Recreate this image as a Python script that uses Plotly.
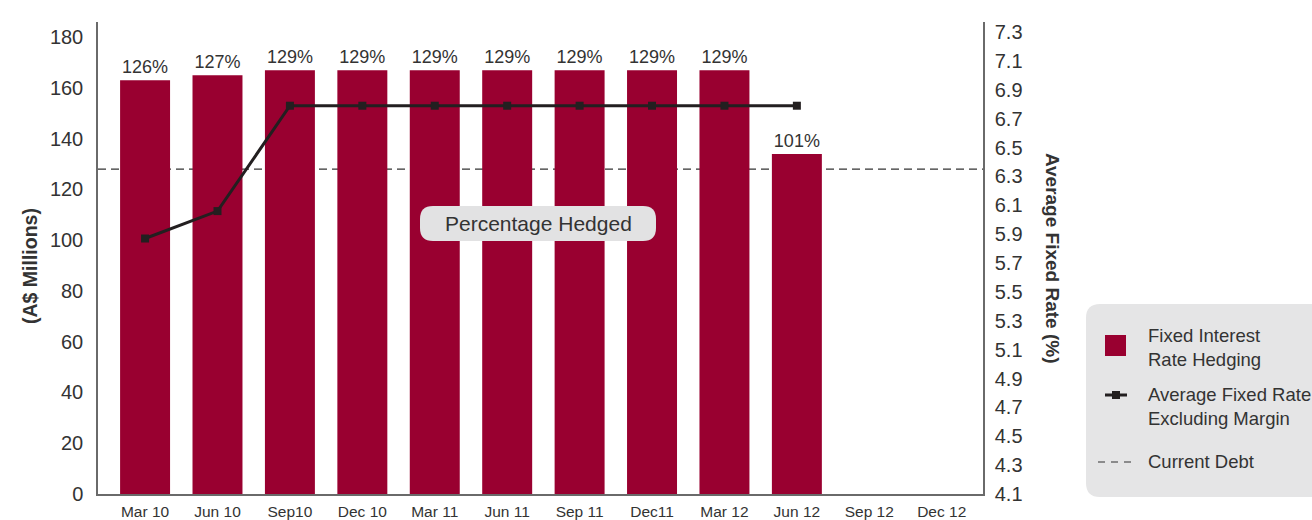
import plotly.graph_objects as go

categories = ["Mar 10", "Jun 10", "Sep10", "Dec 10", "Mar 11", "Jun 11",
              "Sep 11", "Dec11", "Mar 12", "Jun 12", "Sep 12", "Dec 12"]
hedging = [163, 165, 167, 167, 167, 167, 167, 167, 167, 134, None, None]
pct_hedged = ["126%", "127%", "129%", "129%", "129%", "129%", "129%", "129%", "129%", "101%", "", ""]
avg_rate = [5.87, 6.06, 6.79, 6.79, 6.79, 6.79, 6.79, 6.79, 6.79, 6.79, None, None]
current_debt = 128

BAR = "#990030"
LINE = "#231f20"
TXT = "#333333"
FONT = "Liberation Sans, Arial, Helvetica, sans-serif"

W, H = 1312, 520
# screen-pixel plot area (body margin removed via post_script)
SL, SR, ST, SB = 98, 983, 22, 494
L, R, T, B = SL, SR, ST, SB

def px(x):
    return (x - SL) / (SR - SL)

def py(y):
    return (SB - y) / (SB - ST)

fig = go.Figure()
fig.add_trace(go.Bar(
    x=categories, y=hedging, marker=dict(color=BAR, line=dict(width=0)),
    width=0.69, text=pct_hedged, textposition="outside",
    textfont=dict(size=18, color=TXT, family=FONT), cliponaxis=False,
    showlegend=False, hoverinfo="skip"))
fig.add_trace(go.Scatter(
    x=categories, y=avg_rate, yaxis="y2", mode="lines+markers",
    line=dict(color=LINE, width=3), marker=dict(symbol="square", size=8, color=LINE),
    showlegend=False, hoverinfo="skip"))

shapes = []
# current debt dashed line (behind bars)
shapes.append(dict(type="line", xref="paper", x0=0, x1=1, yref="y", y0=current_debt, y1=current_debt,
                   line=dict(color="#333333", width=1.2, dash="8px,5px"), layer="below"))

def rrect(x0, y0, x1, y1, r):
    return (f"M {px(x0+r)} {py(y0)} L {px(x1-r)} {py(y0)} Q {px(x1)} {py(y0)} {px(x1)} {py(y0+r)} "
            f"L {px(x1)} {py(y1-r)} Q {px(x1)} {py(y1)} {px(x1-r)} {py(y1)} "
            f"L {px(x0+r)} {py(y1)} Q {px(x0)} {py(y1)} {px(x0)} {py(y1-r)} "
            f"L {px(x0)} {py(y0+r)} Q {px(x0)} {py(y0)} {px(x0+r)} {py(y0)} Z")

# Percentage Hedged pill
shapes.append(dict(type="path", xref="paper", yref="paper", path=rrect(420, 206, 656, 241, 13),
                   fillcolor="#e2e2e3", line=dict(width=0), layer="above"))
# legend box
shapes.append(dict(type="path", xref="paper", yref="paper", path=rrect(1086, 304, 1340, 497, 14),
                   fillcolor="#e5e5e6", line=dict(width=0), layer="below"))
# legend symbols
shapes.append(dict(type="rect", xref="paper", yref="paper", x0=px(1105), x1=px(1126), y0=py(335), y1=py(356),
                   fillcolor=BAR, line=dict(width=0)))
shapes.append(dict(type="line", xref="paper", yref="paper", x0=px(1105), x1=px(1127), y0=py(395), y1=py(395),
                   line=dict(color=LINE, width=3)))
shapes.append(dict(type="rect", xref="paper", yref="paper", x0=px(1112), x1=px(1120), y0=py(391), y1=py(399),
                   fillcolor=LINE, line=dict(width=0)))
shapes.append(dict(type="line", xref="paper", yref="paper", x0=px(1098), x1=px(1134), y0=py(462), y1=py(462),
                   line=dict(color="#333333", width=1.2, dash="7px,6px")))

LEG = dict(size=18.5, color=TXT, family=FONT)
annotations = [
    dict(text="Percentage Hedged", xref="paper", yref="paper", x=px(538), y=py(223.5), showarrow=False,
         font=dict(size=21, color=TXT, family=FONT), xanchor="center", yanchor="middle"),
    dict(text="<b>(A$ Millions)</b>", xref="paper", yref="paper", x=px(30), y=py(266), showarrow=False,
         textangle=-90, font=dict(size=19.5, color=TXT, family=FONT), xanchor="center", yanchor="middle"),
    dict(text="<b>Average Fixed Rate (%)</b>", xref="paper", yref="paper", x=px(1053), y=py(258), showarrow=False,
         textangle=90, font=dict(size=19, color=TXT, family=FONT), xanchor="center", yanchor="middle"),
    dict(text="Fixed Interest<br>Rate Hedging", xref="paper", yref="paper", x=px(1146), y=py(347), showarrow=False,
         align="left", xanchor="left", yanchor="middle", font=LEG),
    dict(text="Average Fixed Rate<br>Excluding Margin", xref="paper", yref="paper", x=px(1146), y=py(407), showarrow=False,
         align="left", xanchor="left", yanchor="middle", font=LEG),
    dict(text="Current Debt", xref="paper", yref="paper", x=px(1146), y=py(461), showarrow=False,
         align="left", xanchor="left", yanchor="middle", font=LEG),
]

fig.update_layout(
    width=W, height=H, margin=dict(l=L, r=W - R, t=T, b=H - B, autoexpand=False),
    plot_bgcolor="white", paper_bgcolor="white",
    font=dict(family=FONT, color=TXT),
    bargap=0.3, shapes=shapes, annotations=annotations,
    xaxis=dict(type="category", range=[-0.65, 11.57], showline=True, linecolor="#6a6a6a", linewidth=2,
               ticks="", showgrid=False, tickfont=dict(size=15.5, color=TXT), zeroline=False,
               ticklabelstandoff=2),
    yaxis=dict(range=[0, 186], tickvals=list(range(0, 181, 20)), showline=True, linecolor="#6a6a6a",
               linewidth=1.5, ticks="", showgrid=False, zeroline=False,
               tickfont=dict(size=20, color=TXT), ticklabelstandoff=9),
    yaxis2=dict(range=[4.1, 7.37], overlaying="y", side="right",
                tickvals=[round(4.1 + 0.2 * i, 1) for i in range(17)], tickformat=".1f",
                showline=True, linecolor="#6a6a6a", linewidth=1.5, ticks="", showgrid=False, zeroline=False,
                tickfont=dict(size=20, color=TXT), ticklabelstandoff=6),
)

fig.write_html("out.html", config={"displayModeBar": False},
               post_script="document.body.style.margin='0';document.body.style.overflow='hidden';")
